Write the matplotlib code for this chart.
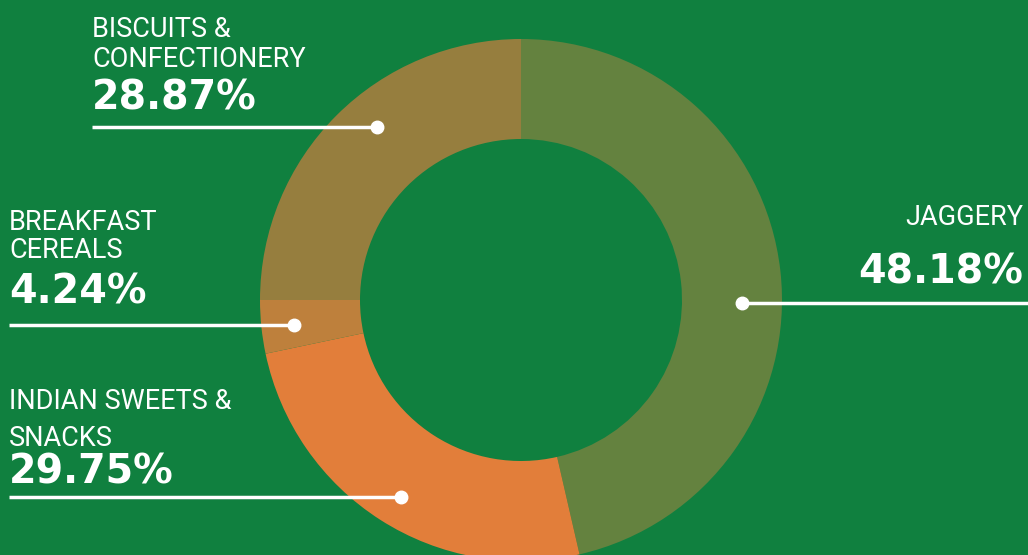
import matplotlib.pyplot as plt

# slice shares as drawn in the picture (the printed labels differ)
names = [["JAGGERY"], ["INDIAN SWEETS &", "SNACKS"], ["BREAKFAST", "CEREALS"], ["BISCUITS &", "CONFECTIONERY"]]
shares = [46.4, 25.3, 3.3, 25.0]
labels_pct = ["48.18%", "29.75%", "4.24%", "28.87%"]
colors = ["#64823F", "#E27E3A", "#BE803C", "#967E3E"]
bg = "#10803F"

W, H = 1028, 555
fig = plt.figure(figsize=(W / 100, H / 100), dpi=100, facecolor=bg)
ax = fig.add_axes([0, 0, 1, 1])
ax.set_facecolor(bg)

cx, cy = 521, H - 300
ax.pie(shares, colors=colors, startangle=90, counterclock=False,
       radius=261, center=(cx, cy),
       wedgeprops=dict(width=100, linewidth=0), frame=False)

ax.set_xlim(0, W)
ax.set_ylim(0, H)
ax.set_aspect("equal")
ax.axis("off")

light = dict(family=["Roboto", "DejaVu Sans"], weight="normal", color="white", fontsize=19.5)
bold = dict(family=["DejaVu Sans"], weight="bold", color="white", fontsize=28.5)

def y(p):
    return H - p

# (name lines, pct, text x, name baselines, pct baseline, line y, line x0, line x1, align)
items = [
    (names[3], labels_pct[3], 92, [37, 67], 110, 127, 92, 377, "left"),
    (names[2], labels_pct[2], 9, [230, 258], 303, 325, 9, 294, "left"),
    (names[1], labels_pct[1], 9, [409, 446], 483, 497, 9, 401, "left"),
    (names[0], labels_pct[0], 1023, [225], 283, 303, 1028, 742, "right"),
]

for lines, pct, tx, nbs, pb, ly, x0, x1, ha in items:
    for line, nb in zip(lines, nbs):
        ax.text(tx, y(nb), line, ha=ha, va="baseline", **light)
    ax.text(tx, y(pb), pct, ha=ha, va="baseline", **bold)
    ax.plot([x0, x1], [y(ly), y(ly)], color="white", lw=2.5, solid_capstyle="butt")
    ax.plot([x1], [y(ly)], "o", color="white", markersize=9)

fig.savefig("out.png", dpi=100, facecolor=bg)
